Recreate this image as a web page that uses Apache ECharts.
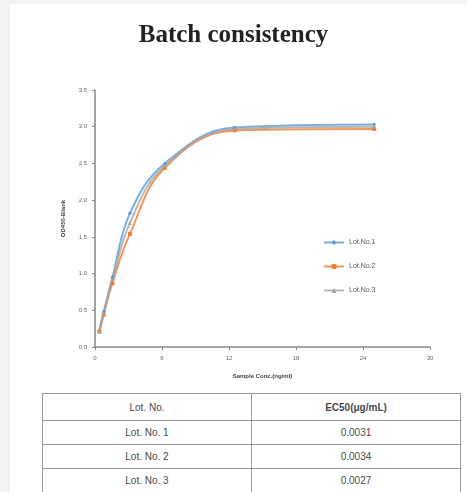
<!DOCTYPE html>
<html>
<head>
<meta charset="utf-8">
<script src="https://cdn.jsdelivr.net/npm/echarts@6/dist/echarts.min.js"></script>
<style>
  html, body { margin:0; padding:0; background:#f3f3f3; width:467px; height:492px; overflow:hidden; }
  #panel { position:absolute; left:10px; top:4px; width:457px; height:488px; background:#fff; }
  #chart { position:absolute; left:0; top:0; width:467px; height:392px; }
  #tbl { position:absolute; left:42px; top:393px; width:419px; border-collapse:collapse;
         font-family:"Liberation Sans", Arial, sans-serif; font-size:10px; color:#4a4a4a; }
  #tbl td { border:1px solid #999; text-align:center; padding:0; }
  #tbl tr.h td { height:26px; }
  #tbl tr.r td { height:23px; }
</style>
</head>
<body>
<div id="panel"></div>
<div id="chart"></div>
<table id="tbl"></table>
<script>
const conc = [0.39, 0.78, 1.5625, 3.125, 6.25, 12.5, 25];
const lot1 = [0.22, 0.48, 0.95, 1.82, 2.50, 2.99, 3.03];
const lot2 = [0.21, 0.44, 0.87, 1.54, 2.44, 2.95, 2.97];
const lot3 = [0.21, 0.46, 0.91, 1.69, 2.47, 2.97, 3.00];
const lotNames = ['Lot.No.1', 'Lot.No.2', 'Lot.No.3'];
const xTicks = [0, 6, 12, 18, 24, 30];
const yTicks = [0, 0.5, 1.0, 1.5, 2.0, 2.5, 3.0, 3.5];
const tableHeader = ['Lot. No.', 'EC50(\u03bcg/mL)'];
const tableLots = ['Lot. No. 1', 'Lot. No. 2', 'Lot. No. 3'];
const ec50 = ['0.0031', '0.0034', '0.0027'];

const colors = ['#5b9bd5', '#ed7d31', '#a5a5a5'];
const symbols = ['diamond', 'rect', 'triangle'];
const allLots = [lot1, lot2, lot3];

const chart = echarts.init(document.getElementById('chart'));
chart.setOption({
  animation: false,
  title: {
    text: 'Batch consistency', left: 'center', top: 18,
    textStyle: { fontFamily: 'Liberation Serif', fontWeight: 'bold', fontSize: 25, color: '#222' }
  },
  legend: {
    orient: 'vertical', left: 318, top: 234, itemGap: 17, itemWidth: 20, itemHeight: 6,
    textStyle: { fontSize: 7, color: '#555', fontFamily: 'Liberation Sans' },
    data: lotNames
  },
  grid: { left: 95, right: 37, top: 90, bottom: 45, containLabel: false },
  xAxis: {
    type: 'value', min: 0, max: 30, interval: 6,
    name: 'Sample Conc.(ng/ml)', nameLocation: 'middle', nameGap: 26,
    nameTextStyle: { fontSize: 6, fontWeight: 'bold', color: '#444' },
    axisLine: { lineStyle: { color: '#888', width: 1.5 } },
    axisTick: { show: true, length: 3, lineStyle: { color: '#888' } },
    axisLabel: { fontSize: 6, color: '#666', margin: 8 },
    splitLine: { show: false }
  },
  yAxis: {
    type: 'value', min: 0, max: 3.5, interval: 0.5,
    name: 'OD450-Blank', nameLocation: 'middle', nameGap: 29, nameRotate: 90,
    nameTextStyle: { fontSize: 6, fontWeight: 'bold', color: '#444' },
    axisLine: { show: true, lineStyle: { color: '#888', width: 1.5 } },
    axisTick: { show: true, length: 3, lineStyle: { color: '#888' } },
    axisLabel: { fontSize: 6, color: '#666', margin: 8, formatter: v => v.toFixed(1) },
    splitLine: { show: false }
  },
  series: allLots.map((d, i) => ({
    name: lotNames[i], type: 'line', smooth: 0.4,
    data: conc.map((c, j) => [c, d[j]]),
    symbol: symbols[i], symbolSize: 4, showSymbol: true,
    itemStyle: { color: colors[i] },
    lineStyle: { color: colors[i], width: 2, opacity: 0.8 }
  }))
});

const tbl = document.getElementById('tbl');
let html = '<tr class="h"><td style="width:50%">' + tableHeader[0] + '</td><td style="font-weight:bold">' + tableHeader[1] + '</td></tr>';
tableLots.forEach((l, i) => { html += '<tr class="r"><td>' + l + '</td><td>' + ec50[i] + '</td></tr>'; });
tbl.innerHTML = html;
</script>
</body>
</html>
